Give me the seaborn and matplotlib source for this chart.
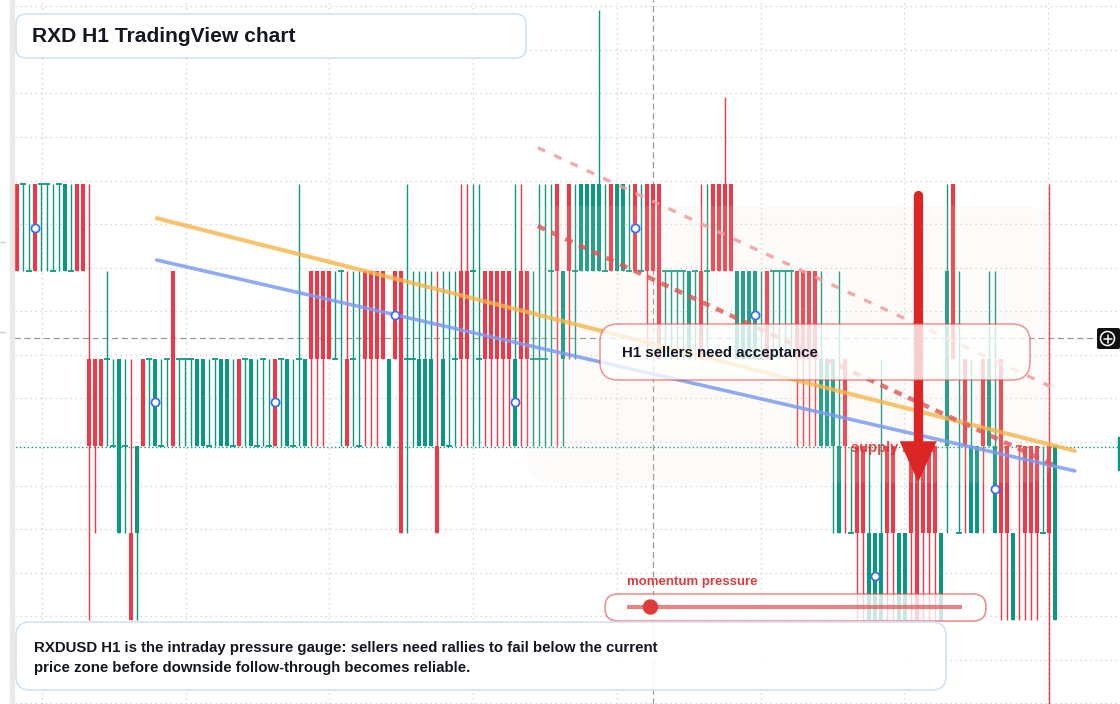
import numpy as np
import pandas as pd
import seaborn as sns
import matplotlib
matplotlib.use("Agg")
import matplotlib.pyplot as plt
from matplotlib.patches import FancyBboxPatch, Circle, Rectangle
from matplotlib.transforms import Affine2D
from matplotlib.colors import to_rgba

W, H = 1120, 704
RED = "#f23645"
GREEN = "#089981"
INK = "#131722"

# H1 candles, prices in ticks of the quantised feed (one tick = one level)
opens = [6, 6, 5, 6, 6, 6, 5, 6, 5, 5, 6, 6,
         4, 4, 4, 4, 3, 2, 3, 2, 2, 4, 4, 3,
         3, 4, 5, 4, 4, 4, 3, 3, 3, 4, 3, 3,
         3, 4, 4, 3, 3, 4, 3, 4, 4, 3, 3, 4,
         3, 5, 5, 5, 5, 4, 5, 4, 4, 3, 5, 5,
         5, 5, 3, 5, 5, 4, 4, 3, 3, 3, 3, 3,
         3, 4, 5, 5, 5, 4, 5, 5, 5, 5, 5, 3,
         5, 5, 4, 4, 4, 5, 6, 4, 6, 5, 5, 5,
         5, 5, 5, 6, 5, 5, 5, 6, 5, 6, 6, 6,
         5, 5, 5, 5, 4, 5, 5, 5, 6, 6, 6, 6,
         4, 4, 4, 4, 4, 5, 5, 5, 5, 5, 5, 5,
         5, 5, 3, 3, 3, 2, 4, 2, 3, 3, 1, 1,
         1, 3, 3, 1, 1, 3, 3, 3, 3, 3, 1, 3,
         6, 2, 4, 2, 2, 4, 3, 2, 4, 3, 1, 3,
         3, 3, 3, 2, 3, 1]
highs = [6, 6, 6, 6, 6, 6, 6, 6, 6, 6, 6, 6,
         6, 4, 4, 5, 4, 4, 4, 4, 3, 4, 4, 4,
         4, 4, 5, 4, 4, 4, 4, 4, 4, 4, 4, 4,
         4, 4, 4, 4, 4, 4, 4, 4, 4, 4, 4, 6,
         4, 5, 5, 5, 5, 5, 5, 5, 5, 5, 5, 5,
         5, 5, 4, 5, 5, 6, 5, 5, 5, 5, 5, 5,
         5, 5, 6, 6, 6, 6, 5, 5, 5, 5, 5, 6,
         6, 5, 5, 6, 6, 6, 6, 5, 6, 6, 6, 6,
         6, 8, 6, 6, 6, 6, 6, 6, 6, 6, 6, 6,
         5, 5, 5, 5, 5, 5, 6, 6, 6, 6, 7, 6,
         5, 5, 5, 5, 5, 5, 5, 5, 5, 5, 5, 5,
         5, 5, 5, 4, 4, 5, 4, 3, 3, 3, 3, 2,
         4, 3, 3, 2, 2, 3, 3, 3, 3, 3, 2, 6,
         6, 5, 4, 4, 3, 4, 5, 5, 4, 3, 2, 3,
         3, 3, 3, 3, 6, 3]
lows = [5, 5, 5, 5, 5, 5, 5, 5, 5, 5, 5, 5,
        1, 2, 3, 3, 3, 2, 2, 1, 1, 3, 3, 3,
        3, 3, 3, 3, 3, 3, 3, 3, 3, 3, 3, 3,
        3, 3, 3, 3, 3, 3, 3, 3, 3, 3, 3, 3,
        3, 3, 3, 3, 4, 4, 3, 3, 3, 3, 3, 3,
        3, 4, 3, 4, 2, 2, 3, 3, 3, 3, 2, 3,
        3, 3, 3, 3, 3, 3, 3, 3, 3, 3, 3, 3,
        3, 3, 3, 3, 3, 3, 3, 3, 4, 4, 5, 5,
        5, 5, 5, 5, 5, 5, 5, 5, 5, 4, 5, 4,
        4, 4, 4, 4, 4, 4, 4, 4, 5, 5, 5, 5,
        4, 4, 4, 4, 4, 4, 4, 4, 4, 4, 3, 3,
        3, 3, 3, 3, 2, 2, 2, 2, 1, 1, 1, 1,
        1, 1, 1, 1, 1, 1, 1, 1, 1, 1, 1, 2,
        4, 2, 2, 2, 2, 2, 3, 2, 1, 1, 1, 1,
        1, 1, 1, 2, 0, 1]
closes = [5, 6, 5, 5, 6, 6, 5, 6, 6, 5, 5, 5,
          3, 3, 3, 4, 3, 4, 3, 1, 3, 3, 4, 4,
          3, 4, 3, 4, 4, 4, 4, 4, 3, 4, 4, 4,
          3, 3, 4, 4, 3, 4, 3, 3, 4, 4, 3, 4,
          4, 4, 4, 4, 4, 4, 5, 3, 4, 3, 4, 4,
          4, 4, 4, 4, 2, 4, 4, 4, 4, 4, 2, 4,
          3, 4, 4, 4, 5, 4, 4, 4, 4, 4, 4, 4,
          4, 4, 4, 4, 4, 5, 5, 5, 5, 5, 6, 6,
          6, 6, 5, 5, 6, 6, 5, 5, 5, 5, 5, 4,
          5, 5, 5, 5, 5, 5, 4, 5, 5, 5, 5, 5,
          5, 5, 5, 5, 4, 4, 5, 5, 5, 5, 4, 4,
          4, 4, 4, 4, 4, 3, 3, 2, 2, 2, 2, 2,
          2, 2, 2, 2, 2, 2, 1, 2, 2, 2, 2, 5,
          4, 2, 3, 3, 3, 3, 4, 3, 2, 2, 2, 3,
          2, 2, 2, 2, 2, 3]
red_doji = [167]
marker_idx = [3, 23, 43, 63, 83, 103, 123, 143, 163]

# drawn studies (candle index, price level)
fast_x, fast_y = [23.3, 176.3], [5.61, 2.94]
slow_x, slow_y = [23.3, 176.3], [5.13, 2.71]
chan_x, chan_y = [86.8, 172.7], [5.52, 2.78]
chan2_x, chan2_y = [86.8, 172.2], [6.42, 3.68]
arrow_i, arrow_top, arrow_base, arrow_tip = 150.2, 5.88, 3.05, 2.58
cursor_i, cursor_lvl = 106, 4.235
momentum = 0.07

title = "RXD H1 TradingView chart"
note = ("RXDUSD H1 is the intraday pressure gauge: sellers need rallies to fail below the current\n"
        "price zone before downside follow-through becomes reliable.")
callout = "H1 sellers need acceptance"

sns.set_style("white")
plt.rcParams["font.family"] = ["Liberation Sans", "DejaVu Sans"]

fig = plt.figure(figsize=(W / 100, H / 100), dpi=100)
ax = fig.add_axes([0, 0, 1, 1])
ax.set_xlim(-17 / 6, (W - 17) / 6)
ax.set_ylim(3 / 87.125, 707 / 87.125)
for s in ax.spines.values():
    s.set_visible(False)

# grid through the axis ticks
ax.set_xticks(4.17 + 23.95 * np.arange(8))
ax.set_yticks(0.042 + 0.5 * np.arange(17))
ax.tick_params(length=0, labelleft=False, labelbottom=False)
ax.grid(True, color="#d4d4d4", lw=1, ls=(0, (1, 2.6)))
ax.set_axisbelow(True)

# pixel space for overlay boxes (origin top-left)
px = Affine2D().scale(1, -1).translate(0, H)


def rbox(x0, y0, x1, y1, r, fc, ec="none", lw=1.2, z=7):
    p = FancyBboxPatch((x0, y0), x1 - x0, y1 - y0,
                       boxstyle=f"round,pad=0,rounding_size={r}",
                       fc=fc, ec=ec, lw=lw, transform=px, zorder=z)
    ax.add_patch(p)


# candles
o, h, l, c = (np.array(a, dtype=float) for a in (opens, highs, lows, closes))
idx = np.arange(len(o))
flat = c == o
cols = np.where(c < o, RED, GREEN)
cols[red_doji] = RED
ax.vlines(idx, l, h, colors=cols, lw=1.0, zorder=2)
ax.bar(idx[~flat], (c - o)[~flat], bottom=o[~flat], width=0.75,
       color=cols[~flat], lw=0, zorder=2.1)
ax.hlines(o[flat], idx[flat] - 0.42, idx[flat] + 0.42, colors=cols[flat], lw=1.3, zorder=2.1)

# last price and cursor
ax.axhline(c[-1] - 0.015, color=GREEN, lw=1, ls=(0, (1, 1.8)), zorder=1.5)
ax.axvline(cursor_i, color="#9a9a9a", lw=0.9, ls=(0, (5, 2.8)), zorder=1.6)
ax.hlines(cursor_lvl, (14 - 17) / 6, (1097 - 17) / 6, color="#9a9a9a", lw=0.9,
          ls=(0, (5, 2.8)), zorder=1.6)

# supply zone shading
rbox(527, 206, 1052, 483, 26, to_rgba("#f3e2d2", 0.13), z=3)

# moving averages and channel lines
sns.lineplot(x=fast_x, y=fast_y, ax=ax, color="#f7b54a", lw=3, alpha=0.8, zorder=4)
sns.lineplot(x=slow_x, y=slow_y, ax=ax, color="#7b9cf0", lw=2.6, alpha=0.85, zorder=4)
sns.lineplot(x=chan2_x, y=chan2_y, ax=ax, color="#f29b9b", lw=2.4, alpha=0.85,
             ls=(0, (2.4, 3)), zorder=4)
sns.lineplot(x=chan_x, y=chan_y, ax=ax, color="#e05555", lw=3.2, alpha=0.8,
             ls=(0, (1.8, 1.6)), zorder=4)

# pivot markers at body mids
sns.scatterplot(x=idx[marker_idx], y=(o[marker_idx] + c[marker_idx]) / 2, ax=ax, s=34,
                color="white", edgecolor="#3f6fe6", linewidth=1.3, zorder=5)

ax.text(851, 448, "supply zone", transform=px, color="#e02d2d", alpha=0.85,
        fontsize=10.5, fontweight="bold", va="center", zorder=5.5)

# bearish arrow
ax.plot([arrow_i, arrow_i], [arrow_top, arrow_base], color="#dc2626", lw=6.7,
        solid_capstyle="round", zorder=6)
hw = 18.5 / 6
ax.fill([arrow_i - hw, arrow_i + hw, arrow_i], [arrow_base, arrow_base, arrow_tip],
        color="#dc2626", lw=0, zorder=6)

# callout
rbox(600, 324, 1030, 380, 18, to_rgba("white", 0.78), to_rgba("#e04848", 0.55))
ax.text(622, 353, callout, transform=px, color=INK, fontsize=10.8, fontweight="bold",
        va="center", zorder=8)

# momentum slider
rbox(605, 594, 986, 621, 13, to_rgba("white", 0.78), to_rgba("#e04848", 0.6))
ax.plot([627, 962], [607, 607], transform=px, color="#e05050", alpha=0.7, lw=3,
        solid_capstyle="butt", zorder=8)
ax.add_patch(Circle((627 + momentum * 335, 607), 7, transform=px, color="#e03b3b", zorder=9))
ax.text(627, 582, "momentum pressure", transform=px, color="#e03b3b", fontsize=9.5,
        fontweight="bold", va="center", zorder=8)

# title and note
rbox(16, 14, 526, 58, 10, to_rgba("white", 0.95), "#d3e2f7")
ax.text(32, 36, title, transform=px, color=INK, fontsize=15.1, fontweight="bold",
        va="center", zorder=8)
rbox(16, 622, 946, 690, 14, to_rgba("white", 0.92), "#d3e2f7")
ax.text(34, 648, note.split("\n")[0], transform=px, color=INK, fontsize=10.8,
        fontweight="bold", va="center", zorder=8)
ax.text(34, 668, note.split("\n")[1], transform=px, color=INK, fontsize=10.8,
        fontweight="bold", va="center", zorder=8)

# chrome: left strip, cursor button, price label edge
ax.add_patch(Rectangle((0, 0), 10, H, transform=px, color="white", zorder=9))
ax.add_patch(Rectangle((10, 0), 4, H, transform=px, color="#e9e9e9", zorder=9))
ax.plot([0, 5], [242, 242], transform=px, color="#cfcfcf", lw=1, zorder=9)
ax.plot([0, 5], [332, 332], transform=px, color="#cfcfcf", lw=1, zorder=9)
rbox(1097, 328, 1120, 349, 2, "#111111", z=9)
ax.add_patch(Circle((1107.5, 338.5), 7, transform=px, fill=False, ec="white", lw=1.1, zorder=10))
ax.plot([1103.5, 1111.5], [338.5, 338.5], transform=px, color="white", lw=1.1, zorder=10)
ax.plot([1107.5, 1107.5], [334.5, 342.5], transform=px, color="white", lw=1.1, zorder=10)
ax.add_patch(Rectangle((1118, 437), 2, 33, transform=px, color=GREEN, zorder=9))

fig.savefig("out.png", dpi=100)
